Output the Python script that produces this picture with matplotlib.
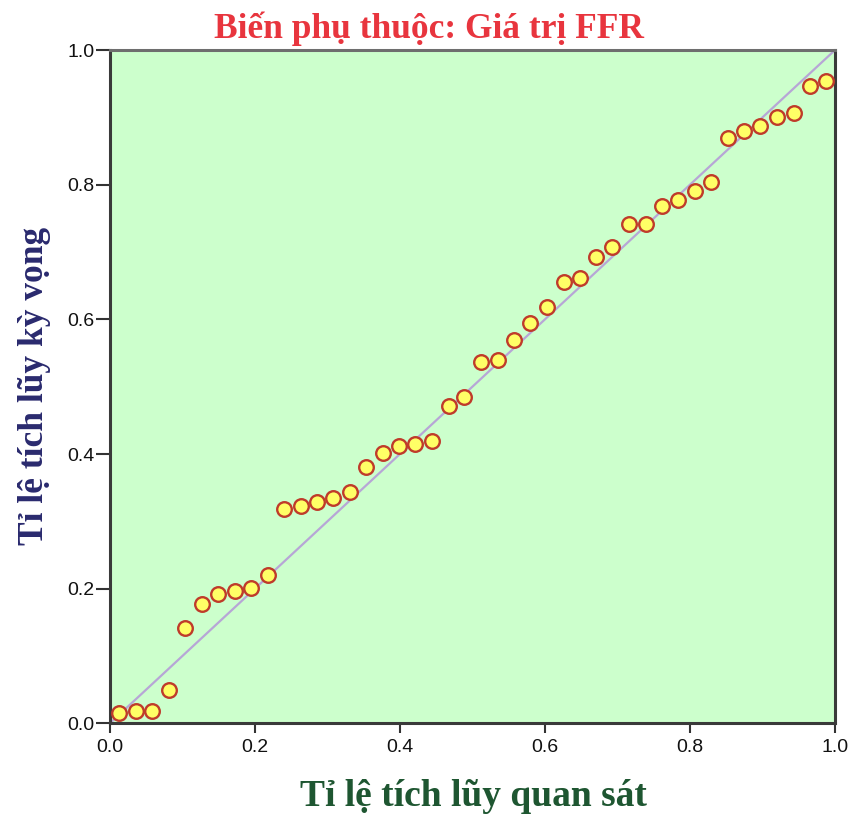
import matplotlib
matplotlib.use("Agg")
import matplotlib.pyplot as plt

# Observed cumulative proportion (x) and expected cumulative proportion (y)
observed = [0.013, 0.036, 0.058, 0.081, 0.104, 0.127, 0.149, 0.172, 0.195, 0.218,
            0.240, 0.263, 0.286, 0.308, 0.331, 0.353, 0.376, 0.399, 0.421, 0.444,
            0.467, 0.489, 0.512, 0.535, 0.557, 0.580, 0.603, 0.626, 0.648, 0.671,
            0.693, 0.716, 0.739, 0.761, 0.784, 0.807, 0.829, 0.852, 0.875, 0.897,
            0.920, 0.943, 0.965, 0.988]
expected = [0.016, 0.018, 0.019, 0.050, 0.141, 0.177, 0.192, 0.197, 0.201, 0.221,
            0.318, 0.323, 0.329, 0.335, 0.343, 0.381, 0.402, 0.412, 0.415, 0.419,
            0.471, 0.484, 0.536, 0.539, 0.570, 0.595, 0.618, 0.655, 0.662, 0.692,
            0.707, 0.741, 0.742, 0.768, 0.778, 0.791, 0.804, 0.870, 0.880, 0.887,
            0.901, 0.906, 0.946, 0.954]
ticks = [0.0, 0.2, 0.4, 0.6, 0.8, 1.0]
tick_labels = ["0.0", "0.2", "0.4", "0.6", "0.8", "1.0"]

title = "Biến phụ thuộc: Giá trị FFR"
xlabel = "Tỉ lệ tích lũy quan sát"
ylabel = "Tỉ lệ tích lũy kỳ vọng"

serif = ["Liberation Serif", "DejaVu Serif"]
narrow = ["Liberation Sans Narrow", "Liberation Sans", "DejaVu Sans"]

fig = plt.figure(figsize=(8.52, 8.21), dpi=100)
ax = fig.add_axes([0.129, 0.119, 0.851, 0.820])
ax.set_facecolor("#CCFFCC")

# Reference diagonal
ax.plot([0, 1], [0, 1], color="#B7A6D6", lw=1.6, zorder=2)

# P-P points
ax.plot(observed, expected, linestyle="none", marker="o", markersize=10.5,
        markerfacecolor="#FFFF66", markeredgecolor="#BF3B2A",
        markeredgewidth=1.7, zorder=3)

ax.set_xlim(0, 1)
ax.set_ylim(0, 1)
ax.set_xticks(ticks)
ax.set_yticks(ticks)
ax.set_xticklabels(tick_labels, fontfamily=narrow, fontsize=14)
ax.set_yticklabels(tick_labels, fontfamily=narrow, fontsize=14)
ax.tick_params(axis="x", direction="out", length=7.5, width=1.5,
               color="#333333", labelcolor="#111111", pad=4)
ax.tick_params(axis="y", direction="out", length=10, width=1.5,
               color="#333333", labelcolor="#111111", pad=1)

for s in ax.spines.values():
    s.set_linewidth(2.2)
    s.set_color("#3A3A3A")
ax.spines["top"].set_color("#6E6E6E")

fig.text(0.5035, 1 - 38 / 821, title, ha="center", va="baseline", fontsize=25.5,
         fontweight="bold", color="#E8353E", fontfamily=serif)
fig.text(0.556, 1 - 806 / 821, xlabel, ha="center", va="baseline", fontsize=27,
         fontweight="bold", color="#1E5631", fontfamily=serif)
fig.text(0.040, 1 - 386 / 821, ylabel, ha="center", va="center", fontsize=25.5,
         fontweight="bold", color="#2A2A6E", fontfamily=serif, rotation=90)

fig.savefig("out.png", dpi=100)
